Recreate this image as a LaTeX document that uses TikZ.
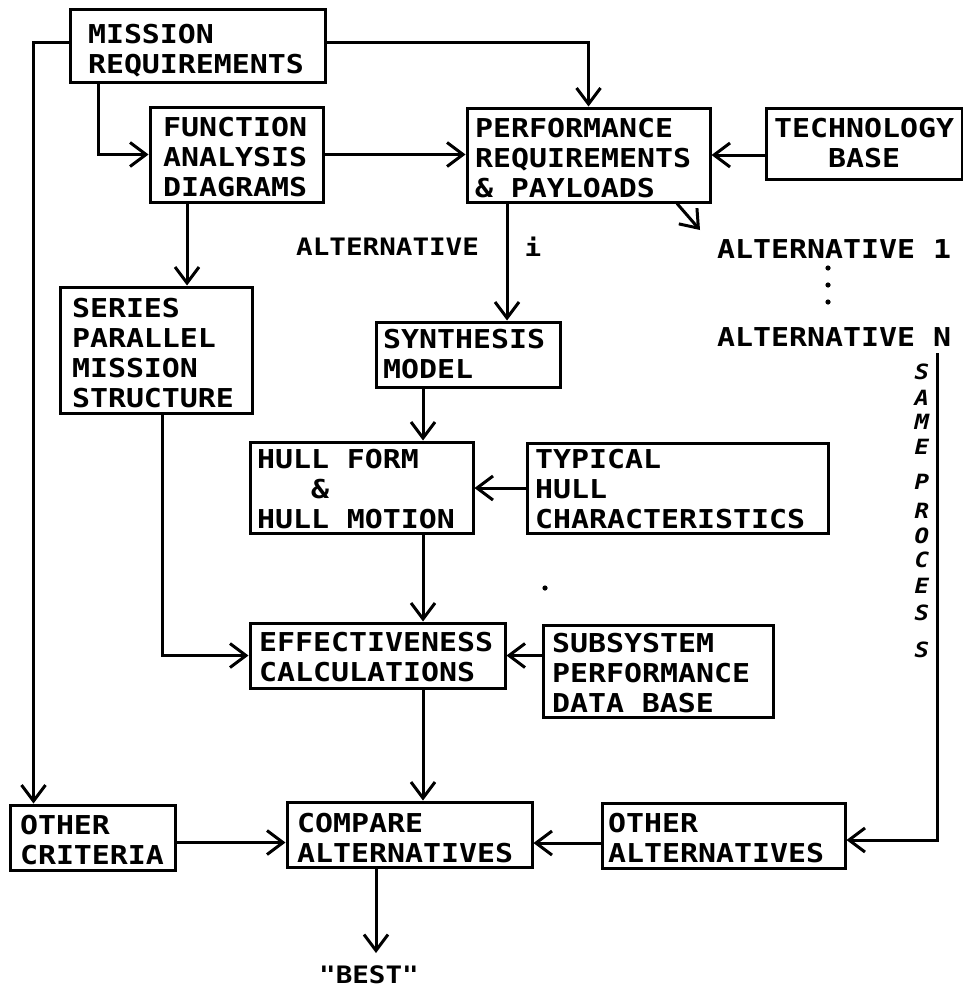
\documentclass[tikz,border=0pt]{standalone}
\usepackage{fontspec}
\newfontfamily\plotfont[FakeStretch=1.15]{DejaVu Sans Mono}
\newcommand\mytsp{\hspace{0.692em}}
\usetikzlibrary{arrows.meta,calc}
\begin{document}
\begin{tikzpicture}[x=1pt,y=-1pt,
  box/.style={draw, line width=3pt, inner ysep=0pt, align=left,
    font=\plotfont\bfseries\fontsize{26}{30}\selectfont},
  dn/.style={execute at begin node={\rule{0pt}{#1pt}}},
  lab/.style={inner sep=0pt, font=\plotfont\bfseries\fontsize{26}{30}\selectfont},
  slab/.style={inner sep=0pt, font=\plotfont\bfseries\fontsize{24}{28}\selectfont},
  vlab/.style={inner sep=0pt, font=\plotfont\bfseries\itshape\fontsize{21}{24}\selectfont},
  arr/.style={line width=3pt, -{Straight Barb[length=16pt,width=24pt,line width=3pt]}},
  ln/.style={line width=3pt}]
\useasboundingbox (0,0) rectangle (963,990);

% boxes
\node[box, dn=29, minimum width=255pt, minimum height=72pt, inner xsep=18pt, text width=219pt] (mission) at (197.5,46) {MISSION\\REQUIREMENTS};
\node[box, dn=25, minimum width=173pt, minimum height=95pt, inner xsep=13pt, text width=147pt] (func) at (236.5,154.5) {FUNCTION\\ANALYSIS\\DIAGRAMS};
\node[box, dn=26, minimum width=243pt, minimum height=94pt, inner xsep=8pt, text width=227pt] (perf) at (588.5,155) {PERFORMANCE\\REQUIREMENTS\\\&\mytsp PAYLOADS};
\node[box, align=center, minimum width=196pt, minimum height=71pt, inner xsep=6pt, text width=184pt] (tech) at (864,143.5) {TECHNOLOGY\\BASE};
\node[box, dn=26, minimum width=192pt, minimum height=126pt, inner xsep=12pt, text width=168pt] (series) at (156,350) {SERIES\\PARALLEL\\MISSION\\STRUCTURE};
\node[box, minimum width=184pt, minimum height=65pt, inner xsep=7pt, text width=170pt] (synth) at (468,354.5) {SYNTHESIS\\MODEL};
\node[box, dn=22, minimum width=223pt, minimum height=91pt, inner xsep=7pt, text width=209pt] (hull) at (361.5,487.5) {HULL\mytsp FORM\\\phantom{HUL}\&\\HULL\mytsp MOTION};
\node[box, dn=22, minimum width=301pt, minimum height=90pt, inner xsep=8pt, text width=285pt] (typical) at (677.5,488) {TYPICAL\\HULL\\CHARACTERISTICS};
\node[box, dn=23, minimum width=255pt, minimum height=65pt, inner xsep=9pt, text width=237pt] (eff) at (377.5,655.5) {EFFECTIVENESS\\CALCULATIONS};
\node[box, dn=24, minimum width=230pt, minimum height=92pt, inner xsep=9pt, text width=212pt] (subsys) at (658,671) {SUBSYSTEM\\PERFORMANCE\\DATA\mytsp BASE};
\node[box, dn=27, minimum width=245pt, minimum height=65pt, inner xsep=10pt, text width=225pt] (compare) at (409.5,834.5) {COMPARE\\ALTERNATIVES};
\node[box, dn=25, minimum width=165pt, minimum height=65pt, inner xsep=10pt, text width=145pt] (criteria) at (92.5,837.5) {OTHER\\CRITERIA};
\node[box, dn=25, minimum width=243pt, minimum height=65pt, inner xsep=6pt, text width=231pt] (otheralt) at (723.5,835.5) {OTHER\\ALTERNATIVES};

% labels
\node[slab, anchor=west] (alti) at (296,247) {ALTERNATIVE};
\node[slab] (ilab) at (533,247) {i};
\node[lab, anchor=west] (alt1) at (717,249) {ALTERNATIVE\mytsp 1};
\node[lab, anchor=west] (altn) at (717,337) {ALTERNATIVE\mytsp N};
\fill (828,268) circle (2.6pt) (828,285) circle (2.6pt) (828,302) circle (2.6pt);
\fill (545,588) circle (2.6pt);
\foreach \l/\yy [count=\k] in {S/372,A/398,M/422,E/447,P/482,R/511,O/536,C/560,E/586,S/613,S/650}
  \node[vlab] (sp\k) at (922,\yy) {\l};
\node[slab, anchor=north, inner ysep=12pt] (best) at (369,953) {"BEST"};

% connectors
\draw[arr] ([yshift=3pt]mission.west) -| ([xshift=25pt]criteria.north west);
\draw[arr] ([yshift=3pt]mission.east) -| (perf.north);
\draw[arr] ([xshift=30pt]mission.south west) |- (func.west);
\draw[arr] (func.east) -- (func.east -| perf.west);
\draw[arr] (tech.west |- perf.east) -- (perf.east);
\coordinate (a1) at (700,230);
\draw[arr] ([xshift=88.5pt]perf.south) -- (a1);
\coordinate (ps) at ([xshift=-81.5pt]perf.south);
\draw[arr] (ps) -- (ps |- synth.north);
\coordinate (fs) at ([xshift=-49.5pt]func.south);
\draw[arr] (fs) -- (fs |- series.north);
\coordinate (ss) at ([xshift=-45pt]synth.south);
\draw[arr] (ss) -- (ss |- hull.north);
\draw[arr] (typical.west) -- (typical.west -| hull.east);
\coordinate (hs) at ([xshift=61.5pt]hull.south);
\draw[arr] (hs) -- (hs |- eff.north);
\draw[arr] ([xshift=6pt]series.south) |- (eff.west);
\draw[arr] (subsys.west |- eff.east) -- (eff.east);
\coordinate (es) at ([xshift=45.5pt]eff.south);
\draw[arr] (es) -- (es |- compare.north);
\coordinate (ce) at ([yshift=-5pt]criteria.east);
\draw[arr] (ce) -- (ce -| compare.west);
\coordinate (oa) at ([yshift=-7.5pt]otheralt.west);
\draw[arr] (oa) -- (oa -| compare.east);
\coordinate (sp) at (937,353);
\coordinate (oe) at ([yshift=-4.5pt]otheralt.east);
\draw[arr] (sp) |- (oe);
\coordinate (cs) at ([xshift=-33.5pt]compare.south);
\draw[arr] (cs) -- (cs |- best.north);
\end{tikzpicture}
\end{document}
